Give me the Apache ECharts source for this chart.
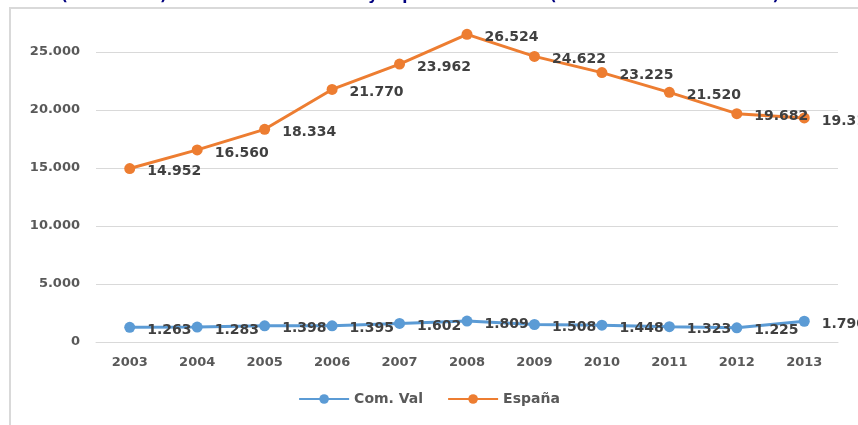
<!DOCTYPE html>
<html>
<head>
<meta charset="utf-8">
<script src="https://cdn.jsdelivr.net/npm/echarts@6/dist/echarts.min.js"></script>
<style>
html, body { margin: 0; padding: 0; background: #fff; }
#main { width: 858px; height: 425px; }
</style>
</head>
<body>
<div id="main"></div>
<script>
var years = ['2003', '2004', '2005', '2006', '2007', '2008', '2009', '2010', '2011', '2012', '2013'];
var comVal = [1263, 1283, 1398, 1395, 1602, 1809, 1508, 1448, 1323, 1225, 1790];
var espana = [14952, 16560, 18334, 21770, 23962, 26524, 24622, 23225, 21520, 19682, 19317];
var yTicks = [0, 5000, 10000, 15000, 20000, 25000];

// separador de miles con punto
function fmt(v) {
    return String(v).replace(/\B(?=(\d{3})+(?!\d))/g, '.');
}

var myChart = echarts.init(document.getElementById('main'));

var labelStyle = {
    show: true,
    position: 'right',
    distance: 12,
    offset: [0, 3],
    color: '#404040',
    fontFamily: 'DejaVu Sans',
    fontWeight: 'bold',
    fontSize: 14,
    formatter: function (p) { return fmt(p.value); }
};

var option = {
    animation: false,
    graphic: [
        {
            type: 'rect',
            shape: { x: 10, y: 8, width: 900, height: 500 },
            style: { fill: 'none', stroke: '#d9d9d9', lineWidth: 2 },
            silent: true
        },
        {
            type: 'text',
            left: 5,
            top: -11,
            style: {
                text: 'Gr. I-1 (estimación). Comunitat Valenciana y España. 2003-2013 (millones euros nominales)',
                fill: '#00007f',
                font: 'bold 15px "DejaVu Sans"'
            },
            silent: true
        }
    ],
    grid: {
        left: 96,
        right: 20,
        top: 52,
        bottom: 83
    },
    legend: {
        data: ['Com. Val', 'España'],
        bottom: 14,
        left: 'center',
        itemWidth: 50,
        itemHeight: 12,
        itemGap: 24,
        textStyle: {
            color: '#595959',
            fontFamily: 'DejaVu Sans',
            fontWeight: 'bold',
            fontSize: 14
        }
    },
    xAxis: {
        type: 'category',
        data: years,
        boundaryGap: true,
        axisLine: { show: true, lineStyle: { color: '#d9d9d9', width: 1 } },
        axisTick: { show: false },
        axisLabel: {
            color: '#595959',
            fontFamily: 'DejaVu Sans',
            fontWeight: 'bold',
            fontSize: 13,
            margin: 14
        }
    },
    yAxis: {
        type: 'value',
        min: 0,
        max: 25000,
        interval: 5000,
        axisLine: { show: false },
        axisTick: { show: false },
        splitLine: { lineStyle: { color: '#d9d9d9', width: 1 } },
        axisLabel: {
            color: '#595959',
            fontFamily: 'DejaVu Sans',
            fontWeight: 'bold',
            fontSize: 13,
            margin: 16,
            formatter: function (v) { return yTicks.indexOf(v) >= 0 ? fmt(v) : ''; }
        }
    },
    series: [
        {
            name: 'Com. Val',
            type: 'line',
            data: comVal,
            clip: false,
            symbol: 'circle',
            symbolSize: 11,
            itemStyle: { color: '#5b9bd5' },
            lineStyle: { color: '#5b9bd5', width: 3 },
            label: labelStyle
        },
        {
            name: 'España',
            type: 'line',
            data: espana,
            clip: false,
            symbol: 'circle',
            symbolSize: 11,
            itemStyle: { color: '#ed7d31' },
            lineStyle: { color: '#ed7d31', width: 3 },
            label: labelStyle
        }
    ]
};

myChart.setOption(option);
</script>
</body>
</html>
